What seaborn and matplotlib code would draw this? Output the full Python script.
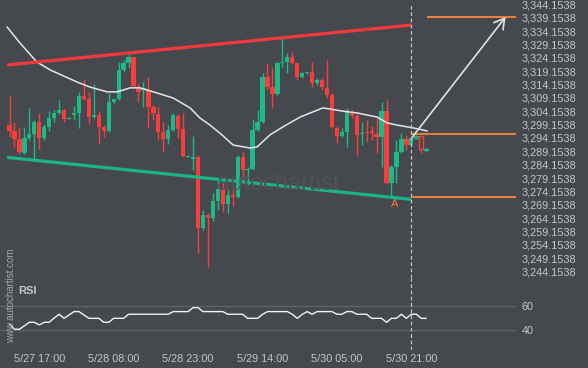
import numpy as np
import pandas as pd
import matplotlib
matplotlib.use("Agg")
import matplotlib.pyplot as plt
import seaborn as sns
from matplotlib.ticker import FixedLocator, FuncFormatter

BG = "#45494e"
UP = "#1dba87"
DOWN = "#fb3c3c"
TREND_UP = "#f43a3d"
TREND_DN = "#1bb486"
ORANGE = "#f2803c"
TEXT = "#c4c6c8"

sns.set_theme(style="dark", rc={"axes.facecolor": BG, "figure.facecolor": BG,
                                "axes.edgecolor": BG})
plt.rcParams["font.family"] = ["Liberation Sans", "DejaVu Sans"]

# hourly candles
opens = [3299.0, 3296.8, 3293.8, 3288.5, 3294.2, 3295.6, 3300.1, 3294.2, 3298.3, 3301.6,
         3303.5, 3304.6, 3301.4, 3302.8, 3303.5, 3309.9, 3308.7, 3302.0, 3302.8, 3298.3,
         3296.8, 3307.6, 3308.7, 3319.6, 3322.2, 3324.4, 3313.2, 3312.1, 3312.1, 3305.7,
         3303.1, 3296.4, 3293.8, 3297.1, 3302.4, 3297.5, 3287.2, 3286.3, 3287.0, 3260.5,
         3265.4, 3264.2, 3270.6, 3275.1, 3269.5, 3272.8, 3272.1, 3287.0, 3282.2, 3282.6,
         3297.1, 3300.1, 3317.0, 3313.2, 3310.6, 3322.2, 3322.6, 3324.4, 3322.2, 3317.0,
         3318.3, 3318.8, 3314.7, 3315.8, 3312.9, 3310.2, 3297.9, 3294.9, 3296.4, 3303.9,
         3302.4, 3295.5, 3296.4, 3296.4, 3295.6, 3294.5, 3304.2, 3277.3, 3283.3, 3288.9,
         3293.8, 3291.5, 3294.2, 3294.9, 3289.8]
highs = [3310.2, 3300.1, 3298.3, 3298.3, 3305.4, 3300.9, 3303.5, 3299.4, 3304.2, 3304.6,
         3308.4, 3305.0, 3302.0, 3306.1, 3311.4, 3316.2, 3311.4, 3314.3, 3304.2, 3299.0,
         3311.0, 3308.7, 3322.6, 3323.3, 3325.6, 3324.6, 3314.7, 3315.1, 3317.0, 3306.5,
         3305.7, 3300.1, 3299.0, 3303.5, 3303.1, 3303.5, 3287.8, 3294.9, 3287.8, 3267.2,
         3266.1, 3273.6, 3278.4, 3278.4, 3274.7, 3276.2, 3287.8, 3288.9, 3283.3, 3301.3,
         3304.6, 3318.5, 3322.2, 3320.3, 3322.6, 3331.9, 3325.9, 3326.3, 3322.2, 3318.8,
         3318.8, 3322.6, 3316.6, 3316.6, 3323.3, 3311.0, 3298.6, 3297.9, 3305.4, 3304.6,
         3303.1, 3300.1, 3300.9, 3298.6, 3301.6, 3307.6, 3308.4, 3284.0, 3293.4, 3296.0,
         3295.3, 3294.5, 3295.3, 3294.9, 3290.4]
lows = [3294.5, 3290.8, 3288.2, 3288.2, 3293.4, 3285.9, 3290.0, 3293.4, 3296.8, 3300.1,
        3303.1, 3300.1, 3301.3, 3300.9, 3297.9, 3308.4, 3299.4, 3301.6, 3291.9, 3294.5,
        3296.4, 3307.2, 3308.4, 3318.8, 3320.3, 3313.2, 3307.6, 3305.7, 3297.9, 3300.9,
        3293.4, 3288.9, 3291.9, 3296.8, 3294.2, 3287.0, 3287.0, 3282.2, 3251.1, 3259.7,
        3245.9, 3263.1, 3267.2, 3266.5, 3266.1, 3268.7, 3271.7, 3279.2, 3276.6, 3282.2,
        3296.8, 3299.8, 3312.1, 3305.4, 3310.2, 3320.7, 3318.5, 3321.8, 3315.8, 3316.6,
        3318.1, 3313.2, 3314.0, 3312.1, 3309.1, 3297.9, 3292.3, 3294.5, 3290.8, 3301.6,
        3287.8, 3291.5, 3292.7, 3293.4, 3288.5, 3283.3, 3276.9, 3272.1, 3277.3, 3288.5,
        3289.7, 3291.2, 3293.8, 3288.5, 3289.3]
closes = [3296.8, 3293.8, 3288.9, 3294.2, 3295.6, 3300.1, 3294.2, 3298.3, 3301.6, 3303.5,
          3304.6, 3301.3, 3301.6, 3303.5, 3309.9, 3308.7, 3302.0, 3302.8, 3298.3, 3296.8,
          3307.6, 3308.7, 3319.6, 3322.2, 3324.4, 3313.6, 3311.4, 3312.9, 3305.7, 3303.5,
          3296.4, 3293.8, 3297.1, 3302.8, 3297.5, 3287.4, 3287.4, 3287.0, 3260.5, 3265.4,
          3264.2, 3270.6, 3275.1, 3269.5, 3272.8, 3272.1, 3287.0, 3282.2, 3282.6, 3297.1,
          3300.1, 3317.0, 3313.2, 3310.6, 3322.2, 3322.6, 3324.4, 3322.2, 3317.0, 3318.5,
          3318.5, 3314.7, 3315.8, 3313.2, 3310.2, 3298.3, 3294.9, 3296.4, 3303.9, 3302.4,
          3295.3, 3295.6, 3296.0, 3296.2, 3294.5, 3304.2, 3277.3, 3283.3, 3288.9, 3293.8,
          3291.5, 3294.2, 3294.9, 3290.0, 3290.0]

# moving average (candle index, price) as drawn
ma_idx = [-0.5, 2.1, 5.5, 8.2, 13.6, 16.2, 19.7, 21.7, 24.3, 26.3, 29.7, 33.0, 36.4, 38.4,
          40.4, 42.4, 45.1, 48.5, 49.9, 52.5, 55.1, 58.6, 60.6, 63.2, 67.2, 70.1, 74.1,
          76.1, 78.1, 81.4, 84.2]
ma_vals = [3335.7, 3329.7, 3322.6, 3319.6, 3315.1, 3313.2, 3311.4, 3311.4, 3312.9, 3312.9,
           3311.0, 3309.1, 3305.4, 3301.6, 3299.0, 3296.0, 3291.5, 3290.4, 3290.8, 3295.3,
           3298.3, 3302.0, 3303.5, 3305.4, 3304.2, 3303.5, 3302.0, 3299.8, 3299.0, 3297.9,
           3296.8]

rsi = [45, 40.6, 40.6, 43.5, 46.4, 46.4, 44.2, 46.4, 46.4, 50,
       53.1, 49.7, 52.5, 55.3, 55.3, 52.5, 49.7, 49.7, 49.7, 46.4,
       46.4, 49.7, 49.7, 49.7, 53.1, 53.1, 53.1, 53.1, 53.1, 53.1,
       53.1, 53.1, 53.1, 55.3, 55.3, 55.3, 55.3, 58.6, 58.6, 55.3,
       55.3, 55.3, 55.3, 55.3, 53.1, 53.1, 53.1, 53.1, 49.7, 49.7,
       49.7, 53.0, 55.3, 55.3, 55.3, 55.3, 55.3, 53.1, 49.7, 53.0,
       55.3, 53.1, 55.3, 55.3, 55.3, 55.3, 53.1, 53.1, 55.3, 55.3,
       53.1, 53.1, 53.1, 49.7, 49.7, 49.7, 46.4, 49.7, 49.7, 53.1,
       49.7, 53.1, 53.1, 49.7, 49.7]

# channel lines: (index, price) endpoints
resist_x = [-0.5, 81]
resist_y = [3321.45, 3336.4]
support_x = [-0.5, 81]
support_y = [3286.9, 3271.2]

pattern_end = 81          # dashed line, 5/30 21:00
target_level = 3339.3
upper_level = 3295.5
lower_level = 3271.9
target_start = 84.2
arrow_from = (81.2, 3294.5)
arrow_to = (100, 3339.4)
a_idx, a_price = 77, 3272.1

tick_idx = [6, 21, 36, 51, 66, 81]
tick_labels = ["5/27 17:00", "5/28 08:00", "5/28 23:00", "5/29 14:00", "5/30 05:00", "5/30 21:00"]
price_ticks = [3244.1538 + 5 * k for k in range(21)]

df = pd.DataFrame({"open": opens, "high": highs, "low": lows, "close": closes})
df["idx"] = np.arange(len(df))
df["up"] = df["close"] >= df["open"]
df["color"] = np.where(df["up"], UP, DOWN)
df["bottom"] = df[["open", "close"]].min(axis=1)
df["height"] = (df["close"] - df["open"]).abs().clip(lower=0.4)
df["hollow"] = df["idx"] > pattern_end

W, H = 588, 368
fig = plt.figure(figsize=(W / 100, H / 100), dpi=100)
ax = fig.add_axes([0, 1 - 278 / H, 516 / W, 278 / H])
rax = fig.add_axes([0, 1 - 350 / H, 516 / W, 72 / H], sharex=ax)

x_lo, x_hi = -1.92, 102.1
ax.set_xlim(x_lo, x_hi)
ax.set_ylim(3241.79, 3345.76)
rax.set_ylim(23.3, 83.3)

for a in (ax, rax):
    a.set_facecolor(BG)
    a.grid(False)
    for s in a.spines.values():
        s.set_visible(False)

# faint watermark in the middle
fig.text(278 / W, 1 - 184 / H, "autochartist", color="#50545a", fontsize=17,
         ha="center", va="center", zorder=0)

# candles
ax.vlines(df["idx"], df["low"], df["high"], colors=df["color"], lw=1, zorder=2)
solid = df[~df["hollow"]]
ax.bar(solid["idx"], solid["height"], bottom=solid["bottom"], width=0.86,
       color=solid["color"], linewidth=0, zorder=3)
hol = df[df["hollow"]]
ax.bar(hol["idx"], hol["height"], bottom=hol["bottom"], width=0.8,
       facecolor=BG, edgecolor=hol["color"], linewidth=1, zorder=3)

sns.lineplot(x=ma_idx, y=ma_vals, ax=ax, color="#e6e6e6", lw=1.1, zorder=4)

ax.plot(resist_x, resist_y, color=TREND_UP, lw=2.3, solid_capstyle="butt", zorder=4)
ax.plot(support_x, support_y, color=TREND_DN, lw=2.3, solid_capstyle="butt", zorder=4)

ax.hlines(target_level, target_start, x_hi, color=ORANGE, lw=1.4, zorder=4)
ax.hlines([upper_level, lower_level], pattern_end, x_hi, color=ORANGE, lw=1.4, zorder=4)

ax.annotate("", xy=arrow_to, xytext=arrow_from,
            arrowprops=dict(arrowstyle="->,head_length=0.6,head_width=0.35",
                            color="#e2e2e2", lw=1.2, shrinkA=0, shrinkB=0), zorder=5)
ax.annotate("A", xy=(a_idx, a_price), xytext=(2, -5), textcoords="offset points",
            ha="center", va="center", color=ORANGE, fontsize=8)

ax.axvline(pattern_end, ymax=1 - 5 / 278, color="#c2c2c2", lw=0.9, ls=(0, (3, 2)), zorder=5)
rax.axvline(pattern_end, color="#c2c2c2", lw=0.9, ls=(0, (3, 2)), zorder=5)

# RSI panel
rax.axhline(60, color="#5f6368", lw=1)
rax.axhline(40, color="#5f6368", lw=1)
sns.lineplot(x=df["idx"], y=rsi, ax=rax, color="#f2f2f2", lw=1.0)
rax.text(18 / 516, (350 - 291) / 72, "RSI", transform=rax.transAxes, color=TEXT,
         fontsize=8, fontweight="bold", va="center", ha="left")

fig.text(11.5 / W, 1 - 296 / H, "www.autochartist.com", rotation=90, color="#a3a6aa",
         fontsize=7, ha="center", va="center")

# ticks
ax.yaxis.tick_right()
ax.yaxis.set_major_locator(FixedLocator(price_ticks))
ax.yaxis.set_major_formatter(FuncFormatter(lambda v, p: f"{v:,.4f}"))
ax.tick_params(axis="y", length=0, pad=4.3, labelsize=7.8, labelcolor=TEXT)
ax.tick_params(axis="x", length=0, labelbottom=False)
ax.set_xlabel("")
ax.set_ylabel("")

rax.yaxis.tick_right()
rax.set_yticks([40, 60])
rax.tick_params(axis="y", length=0, pad=4.3, labelsize=7.8, labelcolor=TEXT)
rax.set_xticks(tick_idx)
rax.set_xticklabels(tick_labels)
rax.tick_params(axis="x", length=0, pad=3, labelsize=7.8, labelcolor=TEXT)
rax.set_xlabel("")
rax.set_ylabel("")

fig.savefig("out.png", dpi=100, facecolor=BG)
